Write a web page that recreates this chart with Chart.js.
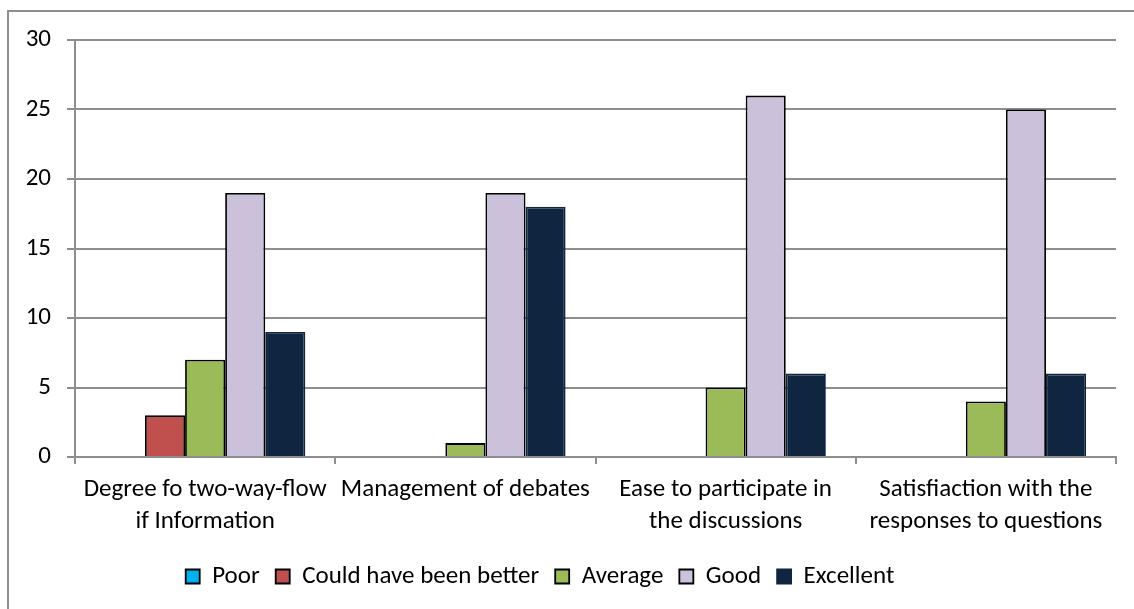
<!DOCTYPE html>
<html>
<head>
<meta charset="utf-8">
<script src="https://cdn.jsdelivr.net/npm/chart.js@4/dist/chart.umd.min.js"></script>
<style>
  html, body { margin: 0; padding: 0; background: #fff; overflow: hidden; }
  #wrap { position: relative; width: 1134px; height: 609px; }
  #frame { position: absolute; left: 7px; top: 10px; width: 1150px; height: 620px; border: 2px solid #8f8f8f; box-sizing: border-box; pointer-events: none; }
  canvas { position: absolute; left: 0; top: 0; }
</style>
</head>
<body>
<div id="wrap">
  <canvas id="chart" width="1134" height="609"></canvas>
  <div id="frame"></div>
</div>
<script>
// Survey categories (multi-line labels as drawn under the axis)
const categories = [
  ['Degree fo two-way-flow', 'if Information'],
  'Management of debates',
  ['Ease to participate in', 'the discussions'],
  ['Satisfiaction with the', 'responses to questions']
];

// Number of responses per rating
const poor = [0, 0, 0, 0];
const couldHaveBeenBetter = [3, 0, 0, 0];
const average = [7, 1, 5, 4];
const good = [19, 19, 26, 25];
const excellent = [9, 18, 6, 6];

const seriesNames = ['Poor', 'Could have been better', 'Average', 'Good', 'Excellent'];
const yTicks = [0, 5, 10, 15, 20, 25, 30];

const FONT = 'Carlito, Calibri, Lato, sans-serif';
const FONT_SIZE = 25;
const GRID = '#8e8e8e';
const LEGEND_PAD = 16;

function series(label, data, fill, edge) {
  return {
    label: label,
    data: data,
    backgroundColor: fill,
    borderColor: edge,
    borderWidth: 1.8,
    borderSkipped: 'start',
    barPercentage: 1.0,
    categoryPercentage: 0.77
  };
}

new Chart(document.getElementById('chart'), {
  type: 'bar',
  data: {
    labels: categories,
    datasets: [
      series(seriesNames[0], poor, '#00B0F0', '#000000'),
      series(seriesNames[1], couldHaveBeenBetter, '#C0504D', '#000000'),
      series(seriesNames[2], average, '#9BBB59', '#000000'),
      series(seriesNames[3], good, '#CCC1DA', '#000000'),
      series(seriesNames[4], excellent, '#10253F', '#10253F')
    ]
  },
  options: {
    responsive: false,
    animation: false,
    layout: { padding: { top: 40, right: 18, bottom: 10, left: -36 } },
    plugins: {
      tooltip: { enabled: false },
      legend: {
        position: 'bottom',
        labels: {
          font: { family: FONT, size: FONT_SIZE },
          color: '#000',
          boxWidth: 14,
          boxHeight: 14,
          padding: LEGEND_PAD
        }
      }
    },
    scales: {
      x: {
        offset: true,
        grid: {
          offset: true,
          drawOnChartArea: false,
          drawTicks: true,
          tickLength: 7,
          color: GRID,
          lineWidth: 2
        },
        border: { display: true, color: GRID, width: 2 },
        ticks: {
          font: { family: FONT, size: FONT_SIZE, lineHeight: 32 / FONT_SIZE },
          color: '#000',
          padding: 10,
          maxRotation: 0,
          autoSkip: false
        },
        afterFit: function (scale) { scale.height = 91; }
      },
      y: {
        min: 0,
        max: 30,
        afterBuildTicks: function (scale) {
          scale.ticks = yTicks.map(function (v) { return { value: v }; });
        },
        grid: {
          color: GRID,
          lineWidth: 2,
          drawTicks: true,
          tickLength: 8
        },
        border: { display: true, color: GRID, width: 2 },
        ticks: {
          font: { family: FONT, size: FONT_SIZE },
          color: '#000',
          padding: 16
        },
        afterFit: function (scale) { scale.width = 111; }
      }
    }
  }
});
</script>
</body>
</html>
